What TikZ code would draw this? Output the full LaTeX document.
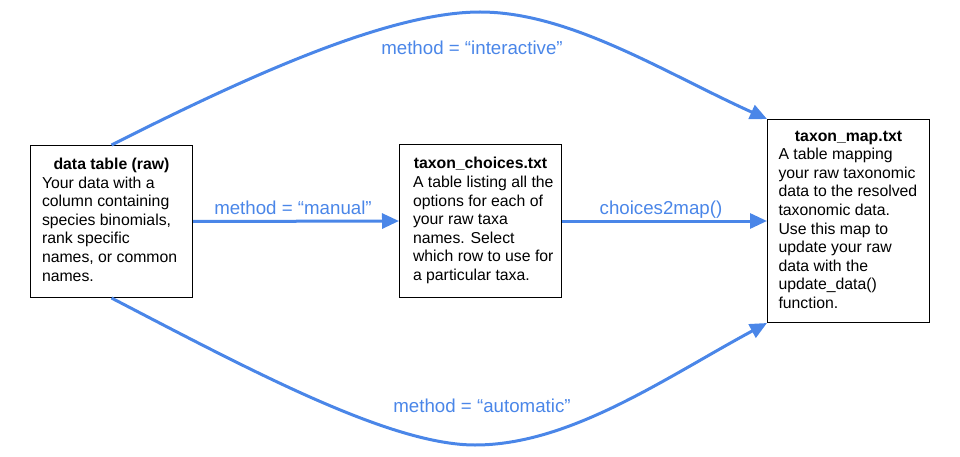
\documentclass[tikz,border=0pt]{standalone}
\usepackage{fontspec}
\setmainfont{Liberation Sans}
\usetikzlibrary{arrows.meta}
\definecolor{gblue}{HTML}{4A86E8}
\newcommand{\boxtext}[3]{\begin{tabular}{@{\hspace{#1}}l@{}}\multicolumn{1}{@{}c@{}}{\makebox[148pt][c]{\bfseries #2}}\\ #3\end{tabular}}
\begin{document}
\begin{tikzpicture}[x=1pt,y=-1pt,
  box/.style={draw=black, line width=1pt, minimum width=162pt, inner xsep=7pt, inner ysep=0pt,
    font=\fontsize{15.8}{18.6}\selectfont, anchor=north west},
  conn/.style={draw=gblue, line width=3pt, -{Triangle[length=17pt,width=15pt]}},
  lbl/.style={text=gblue, font=\fontsize{18.7}{22}\selectfont, anchor=base, inner sep=0pt}]
\useasboundingbox (0,0) rectangle (960,457);
\node[box, minimum height=152pt] (b1) at (30,145)
  {\boxtext{4.5pt}{data table (raw)}{Your data with a\\column containing\\species binomials,\\rank specific\\names, or common\\names.}};
\node[box, minimum height=153pt] (b2) at (399,144)
  {\boxtext{6.5pt}{taxon\_choices.txt}{A table listing all the\\options for each of\\your raw taxa\\names. Select\\which row to use for\\a particular taxa.}};
\node[box, minimum height=203pt] (b3) at (767,119)
  {\boxtext{4pt}{taxon\_map.txt}{A table mapping\\your raw taxonomic\\data to the resolved\\taxonomic data.\\Use this map to\\update your raw\\data with the\\update\_data()\\function.}};
\coordinate (tm) at (480,12);
\coordinate (bm) at (475,445);
\draw[conn] (b1.east) -- (b2.west);
\draw[conn] (b2.east) -- (b3.west);
\draw[conn] (b1.north) .. controls (250,75) and (390,12) .. (tm) .. controls (570,12) and (665,73) .. (b3.north west);
\draw[conn] (b1.south) .. controls (250,370) and (390,445) .. (bm) .. controls (570,445) and (665,378) .. (b3.south west);
\node[lbl] (l1) at (472,55) {method = “interactive”};
\node[lbl] (l2) at (293,214) {method = “manual”};
\node[lbl] (l3) at (661,214) {choices2map()};
\node[lbl] (l4) at (482,412) {method = “automatic”};
\end{tikzpicture}
\end{document}
